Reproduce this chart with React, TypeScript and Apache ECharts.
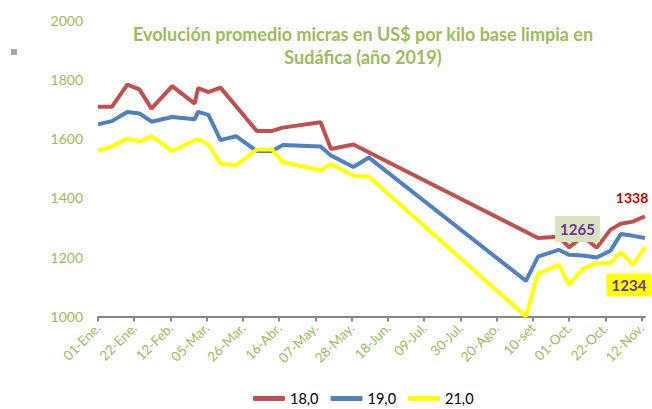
import React, { useEffect, useRef } from "react";
import * as echarts from "echarts";

const titleText = "Evolución promedio micras en US$ por kilo base limpia en\nSudáfica (año 2019)";
const seriesNames = ["18,0", "19,0", "21,0"];
const tickLabels = ["01-Ene.", "22-Ene.", "12-Feb.", "05-Mar.", "26-Mar.", "16-Abr.", "07-May.", "28-May.", "18-Jun.", "09-Jul.", "30-Jul.", "20-Ago.", "10-set", "01-Oct.", "22-Oct.", "12-Nov."];
const yTicks = [1000, 1200, 1400, 1600, 1800, 2000];

// day of year (0 = 01-Ene.)
const redDays = [0, 8, 17, 24, 31, 43, 56, 58, 64, 71, 92, 101, 107, 129, 135, 148, 255, 267, 273, 281, 289, 297, 303, 310, 317];
const redValues = [1707, 1707, 1782, 1766, 1701, 1777, 1718, 1770, 1757, 1772, 1626, 1626, 1637, 1655, 1565, 1580, 1265, 1269, 1233, 1270, 1232, 1293, 1313, 1320, 1338];

const blueDays = [0, 8, 17, 24, 31, 43, 56, 58, 64, 71, 80, 92, 101, 107, 129, 135, 148, 157, 248, 255, 267, 273, 281, 289, 297, 303, 310, 317];
const blueValues = [1648, 1659, 1690, 1685, 1657, 1673, 1665, 1690, 1680, 1595, 1608, 1558, 1558, 1578, 1573, 1543, 1504, 1536, 1120, 1202, 1225, 1208, 1206, 1199, 1222, 1278, 1272, 1265];

const yellowDays = [0, 8, 17, 24, 31, 43, 56, 58, 64, 71, 80, 92, 101, 107, 129, 135, 148, 157, 248, 255, 267, 273, 281, 289, 297, 303, 310, 317];
const yellowValues = [1560, 1573, 1600, 1590, 1608, 1558, 1594, 1597, 1580, 1515, 1509, 1563, 1563, 1520, 1493, 1514, 1475, 1471, 1000, 1144, 1174, 1107, 1161, 1180, 1180, 1217, 1174, 1234];

const TICK_STEP = 21;
const FONT = "Lato";
const GREEN = "#9BBB59";
const PURPLE = "#7030A0";

function buildData(days: number[], values: number[], lastLabel: any) {
  return days.map((d, i) => {
    if (i === days.length - 1) {
      return { value: [d, values[i]], label: lastLabel };
    }
    return { value: [d, values[i]] };
  });
}

export default function App() {
  const ref = useRef<HTMLDivElement>(null);
  useEffect(() => {
    if (!ref.current) return;
    const chart = echarts.init(ref.current, null, { renderer: "svg" });
    const tickValues = tickLabels.map((_, i) => i * TICK_STEP);
    const labelFmt = (p: any) => String(p.value[1]);
    const option: any = {
      animation: false,
      backgroundColor: "#ffffff",
      title: {
        text: titleText,
        left: 358,
        top: 17,
        textAlign: "center",
        textStyle: { fontFamily: FONT, fontSize: 18, fontWeight: "bold", color: GREEN, lineHeight: 23 },
      },
      graphic: [
        { type: "rect", shape: { x: 11, y: 49, width: 6, height: 6 }, style: { fill: "#A6A6A6" } },
      ],
      legend: {
        data: seriesNames,
        top: 387,
        left: 248,
        padding: [4, 5, 4, 5],
        icon: "roundRect",
        itemWidth: 32,
        itemHeight: 5,
        itemGap: 12,
        textStyle: { fontFamily: FONT, fontSize: 14.5, color: "#000000" },
      },
      grid: { left: 98, right: 7, top: 20, bottom: 92.5, containLabel: false },
      xAxis: {
        type: "value",
        min: 0,
        max: 317,
        axisLine: { show: true, lineStyle: { color: "#868686", width: 2 } },
        axisTick: { show: true, customValues: tickValues, length: 5, lineStyle: { color: "#868686", width: 2 } },
        splitLine: { show: false },
        axisLabel: {
          customValues: tickValues,
          rotate: 45,
          margin: 9,
          color: GREEN,
          fontFamily: FONT,
          fontSize: 13.5,
          formatter: (v: number) => tickLabels[Math.round(v / TICK_STEP)] ?? "",
        },
      },
      yAxis: {
        type: "value",
        min: yTicks[0],
        max: yTicks[yTicks.length - 1],
        interval: 200,
        axisLine: { show: false },
        axisTick: { show: false },
        splitLine: { show: false },
        axisLabel: { color: GREEN, fontFamily: FONT, fontSize: 14, margin: 15, formatter: (v: number) => String(v) },
      },
      series: [
        {
          name: seriesNames[0],
          type: "line",
          symbol: "circle",
          symbolSize: 0,
          showSymbol: true,
          lineStyle: { color: "#C0504D", width: 4 },
          itemStyle: { color: "#C0504D" },
          data: buildData(redDays, redValues, {
            show: true,
            position: "inside",
            offset: [-13, -19],
            formatter: labelFmt,
            color: "#C00000",
            fontFamily: FONT,
            fontWeight: "bold",
            fontSize: 14,
          }),
        },
        {
          name: seriesNames[1],
          type: "line",
          symbol: "circle",
          symbolSize: 0,
          showSymbol: true,
          lineStyle: { color: "#4F81BD", width: 4 },
          itemStyle: { color: "#4F81BD" },
          data: buildData(blueDays, blueValues, {
            show: true,
            position: "inside",
            offset: [-67.5, -9],
            formatter: labelFmt,
            color: PURPLE,
            fontFamily: FONT,
            fontWeight: "bold",
            fontSize: 15,
            backgroundColor: "#D7E4BD",
            padding: [6, 5, 5, 5],
          }),
        },
        {
          name: seriesNames[2],
          type: "line",
          symbol: "circle",
          symbolSize: 0,
          showSymbol: true,
          lineStyle: { color: "#FFFF00", width: 4 },
          itemStyle: { color: "#FFFF00" },
          data: buildData(yellowDays, yellowValues, {
            show: true,
            position: "inside",
            offset: [-16, 38],
            formatter: labelFmt,
            color: PURPLE,
            fontFamily: FONT,
            fontWeight: "bold",
            fontSize: 15,
            backgroundColor: "#FFFF00",
            padding: [4, 5, 4, 5],
          }),
        },
      ],
    };
    chart.setOption(option);
    return () => chart.dispose();
  }, []);
  return (
    <div
      ref={ref}
      style={{ position: "absolute", left: 0, top: 0, width: 652, height: 409, background: "#fff" }}
    />
  );
}
